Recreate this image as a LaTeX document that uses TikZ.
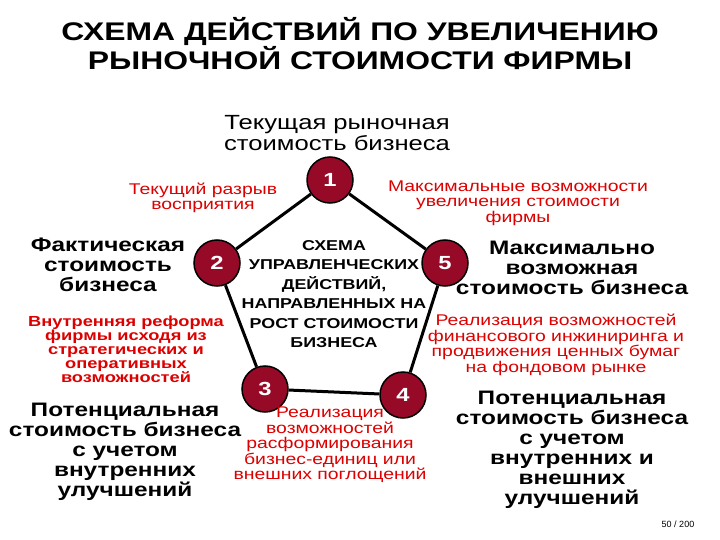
\documentclass[tikz,border=0pt]{standalone}
\usepackage{fontspec}
\setmainfont{Liberation Sans}
\newfontfamily\widefnt[FakeStretch=1.25]{Liberation Sans}
\begin{document}
\begin{tikzpicture}[x=1pt,y=-1pt,
  num/.style={circle,draw=black,line width=1.5pt,fill={rgb,255:red,150;green,10;blue,40},text=white,font=\widefnt\bfseries\fontsize{19}{19}\selectfont,minimum size=46pt,inner sep=0pt},
  redt/.style={text={rgb,255:red,220;green,0;blue,0},align=center,font=\widefnt\fontsize{15.5}{15.5}\selectfont},
  redb/.style={text={rgb,255:red,220;green,0;blue,0},align=center,font=\widefnt\bfseries\fontsize{14.6}{14}\selectfont},
  bigb/.style={align=center,font=\widefnt\bfseries\fontsize{19.5}{20}\selectfont},
  edge/.style={line width=3pt}]
\useasboundingbox (0,0) rectangle (720,540);
\node[align=center,font=\widefnt\bfseries\fontsize{25.5}{28}\selectfont] (title) at (360,44) {СХЕМА ДЕЙСТВИЙ ПО УВЕЛИЧЕНИЮ\\РЫНОЧНОЙ СТОИМОСТИ ФИРМЫ};
\node[num] (n1) at (330,180) {1};
\node[num] (n2) at (217,263) {2};
\node[num] (n5) at (445,263) {5};
\node[num] (n3) at (265,389) {3};
\node[num] (n4) at (403,395) {4};
\draw[edge] (n1) -- (n2);
\draw[edge] (n2) -- (n3);
\draw[edge] (n3) -- (n4);
\draw[edge] (n4) -- (n5);
\draw[edge] (n5) -- (n1);
\node[align=center,font=\widefnt\bfseries\fontsize{14.3}{19.5}\selectfont] (ctr) at (334,294) {СХЕМА\\УПРАВЛЕНЧЕСКИХ\\ДЕЙСТВИЙ,\\НАПРАВЛЕННЫХ НА\\РОСТ СТОИМОСТИ\\БИЗНЕСА};
\node[align=center,font=\widefnt\fontsize{20.5}{19}\selectfont] (cur) at (337,133) {Текущая рыночная\\стоимость бизнеса};
\node[redt] (gap) at (203,198) {Текущий разрыв\\восприятия};
\node[redt] (maxp) at (518,203) {Максимальные возможности\\увеличения стоимости\\фирмы};
\node[bigb] (fact) at (108,265) {Фактическая\\стоимость\\бизнеса};
\node[bigb] (maxv) at (572,268) {Максимально\\возможная\\стоимость бизнеса};
\node[redb] (inner) at (126,349) {Внутренняя реформа\\фирмы исходя из\\стратегических и\\оперативных\\возможностей};
\node[redt] (fin) at (556,345) {Реализация возможностей\\финансового инжиниринга и\\продвижения ценных бумаг\\на фондовом рынке};
\node[bigb] (pot1) at (125,452) {Потенциальная\\стоимость бизнеса\\с учетом\\внутренних\\улучшений};
\node[redt] (disp) at (330,445) {Реализация\\возможностей\\расформирования\\бизнес-единиц или\\внешних поглощений};
\node[bigb] (pot2) at (572,450) {Потенциальная\\стоимость бизнеса\\с учетом\\внутренних и\\внешних\\улучшений};
\node[font=\fontsize{9}{9}\selectfont] (pg) at (678,524) {50 / 200};
\end{tikzpicture}
\end{document}
